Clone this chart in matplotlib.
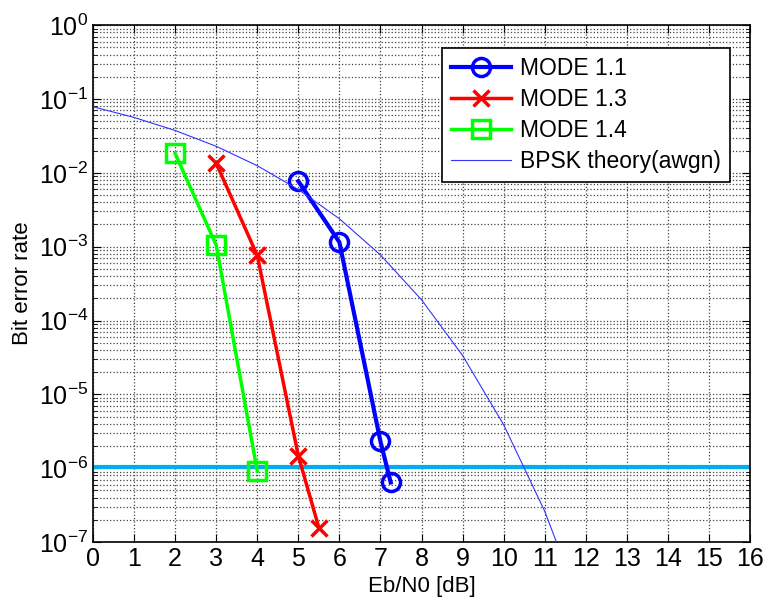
import matplotlib.pyplot as plt
from matplotlib.ticker import LogLocator, LogFormatterMathtext, NullFormatter

plt.rcParams['font.family'] = ['Liberation Sans', 'DejaVu Sans']
plt.rcParams['mathtext.fontset'] = 'custom'
plt.rcParams['mathtext.rm'] = 'Liberation Sans'

# measured curves
snr_11 = [5, 6, 7, 7.25]
ber_11 = [7.7e-3, 1.15e-3, 2.3e-6, 6.4e-7]

snr_13 = [3, 4, 5, 5.5]
ber_13 = [1.35e-2, 7.6e-4, 1.47e-6, 1.56e-7]

snr_14 = [2, 3, 4]
ber_14 = [1.83e-2, 1.05e-3, 9.1e-7]

# BPSK theory in AWGN
snr_th = [0, 1, 2, 3, 4, 5, 6, 7, 8, 9, 10, 11, 12]
ber_th = [7.86e-2, 5.63e-2, 3.75e-2, 2.29e-2, 1.25e-2, 5.95e-3, 2.39e-3,
          7.73e-4, 1.91e-4, 3.36e-5, 3.87e-6, 2.61e-7, 9.0e-9]

target_ber = 1.05e-6

fig = plt.figure(figsize=(7.65, 6.03), dpi=100)
ax = fig.add_axes([0.1216, 0.1012, 0.8588, 0.857])

ax.axhline(target_ber, color='#00aeef', lw=3, zorder=2)
ax.semilogy(snr_11, ber_11, '-o', color='#0000ff', lw=3, ms=13, mfc='none',
            mew=2.5, label='MODE 1.1', zorder=3)
ax.semilogy(snr_13, ber_13, '-x', color='#ff0000', lw=2.5, ms=12, mew=2.5,
            label='MODE 1.3', zorder=3)
ax.semilogy(snr_14, ber_14, '-s', color='#00ff00', lw=2.5, ms=13, mfc='none',
            mew=2.5, label='MODE 1.4', zorder=3)
ax.semilogy(snr_th, ber_th, '-', color='#3333ff', lw=0.8,
            label='BPSK theory(awgn)', zorder=3)

ax.set_xlim(0, 16)
ax.set_ylim(1e-7, 1)
ax.set_xticks(range(0, 17))
ax.yaxis.set_major_locator(LogLocator(base=10, numticks=10))
ax.yaxis.set_major_formatter(LogFormatterMathtext())
ax.yaxis.set_minor_locator(LogLocator(base=10, subs=range(2, 10), numticks=20))
ax.yaxis.set_minor_formatter(NullFormatter())

ax.grid(True, which='major', color='#444444', ls=':', lw=0.9)
ax.grid(True, which='minor', axis='y', color='#444444', ls=':', lw=0.9)
ax.tick_params(which='both', direction='in', top=True, right=True, labelsize=18)
ax.tick_params(which='major', length=6)
ax.tick_params(which='minor', length=3)
for s in ax.spines.values():
    s.set_linewidth(1.2)

ax.set_xlabel('Eb/N0 [dB]', fontsize=16)
ax.set_ylabel('Bit error rate', fontsize=16)

leg = ax.legend(loc='upper right', bbox_to_anchor=(0.98, 0.97), fontsize=16.5,
                fancybox=False, framealpha=1, edgecolor='black',
                handlelength=2.6, borderaxespad=0.3, labelspacing=0.35,
                handletextpad=0.4)
leg.get_frame().set_linewidth(1.2)

fig.savefig('out.png', dpi=100)
